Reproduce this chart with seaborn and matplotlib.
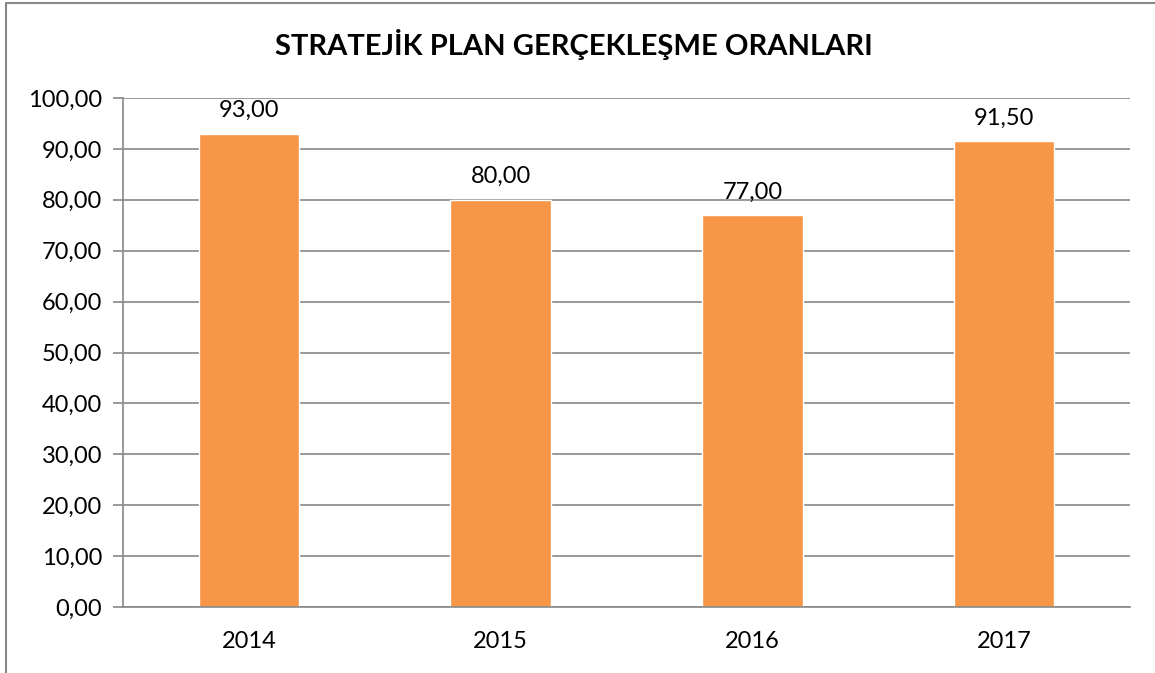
import matplotlib
matplotlib.use("Agg")
import matplotlib.pyplot as plt
from matplotlib.lines import Line2D
from matplotlib.ticker import FixedLocator, FuncFormatter
import seaborn as sns
import pandas as pd

years = ["2014", "2015", "2016", "2017"]
rates = [93.00, 80.00, 77.00, 91.50]
y_ticks = [0, 10, 20, 30, 40, 50, 60, 70, 80, 90, 100]

sns.set_theme(style="white")
plt.rcParams["font.family"] = ["Lato", "DejaVu Sans"]

BAR = "#F79646"
GRID = "#888888"
FS = 17

fig = plt.figure(figsize=(11.55, 6.73), dpi=100)
ax = fig.add_axes([123 / 1155, 1 - 607 / 673, (1130 - 123) / 1155, (607 - 98) / 673])

df = pd.DataFrame({"year": years, "rate": rates})
sns.barplot(data=df, x="year", y="rate", color=BAR, saturation=1, width=0.4, ax=ax)

ax.set_ylim(0, 100)
ax.set_xlim(-0.5, len(years) - 0.5)
ax.yaxis.set_major_locator(FixedLocator(y_ticks))
ax.yaxis.set_major_formatter(FuncFormatter(lambda v, p: f"{v:.2f}".replace(".", ",")))
ax.set_axisbelow(True)
ax.grid(axis="y", color=GRID, linewidth=1.2)
ax.grid(axis="x", visible=False)

for side in ["top", "right"]:
    ax.spines[side].set_visible(False)
for side in ["left", "bottom"]:
    ax.spines[side].set_color(GRID)
    ax.spines[side].set_linewidth(1.2)

# category boundary ticks on x, labels centered under bars
ax.set_xticks([i - 0.5 for i in range(len(years) + 1)], minor=False)
ax.set_xticklabels([])
ax.set_xticks(range(len(years)), minor=True)
ax.set_xticklabels(years, minor=True)
ax.tick_params(axis="x", which="major", length=7, width=1.2, color=GRID, direction="out")
ax.tick_params(axis="x", which="minor", length=0, labelsize=FS, pad=17, labelcolor="black")
ax.tick_params(axis="y", length=7, width=1.2, color=GRID, direction="out", labelsize=FS,
               pad=8, labelcolor="black", left=True)

ax.set_xlabel("")
ax.set_ylabel("")

for i, v in enumerate(rates):
    ax.annotate(f"{v:.2f}".replace(".", ","), xy=(i, v), xytext=(0, 9),
                textcoords="offset points", ha="center", va="bottom", fontsize=FS, color="black")

fig.text(574 / 1155, 1 - 45 / 673, "STRATEJİK PLAN GERÇEKLEŞME ORANLARI", ha="center", va="center",
         fontsize=21, fontweight="bold", color="black")

# outer chart frame (left and top edges)
fig.add_artist(Line2D([6 / 1155, 6 / 1155, 1.0], [0.0, 1 - 3 / 673, 1 - 3 / 673],
                      transform=fig.transFigure, color="#888888", linewidth=1.5))

fig.savefig("out.png", dpi=100)
